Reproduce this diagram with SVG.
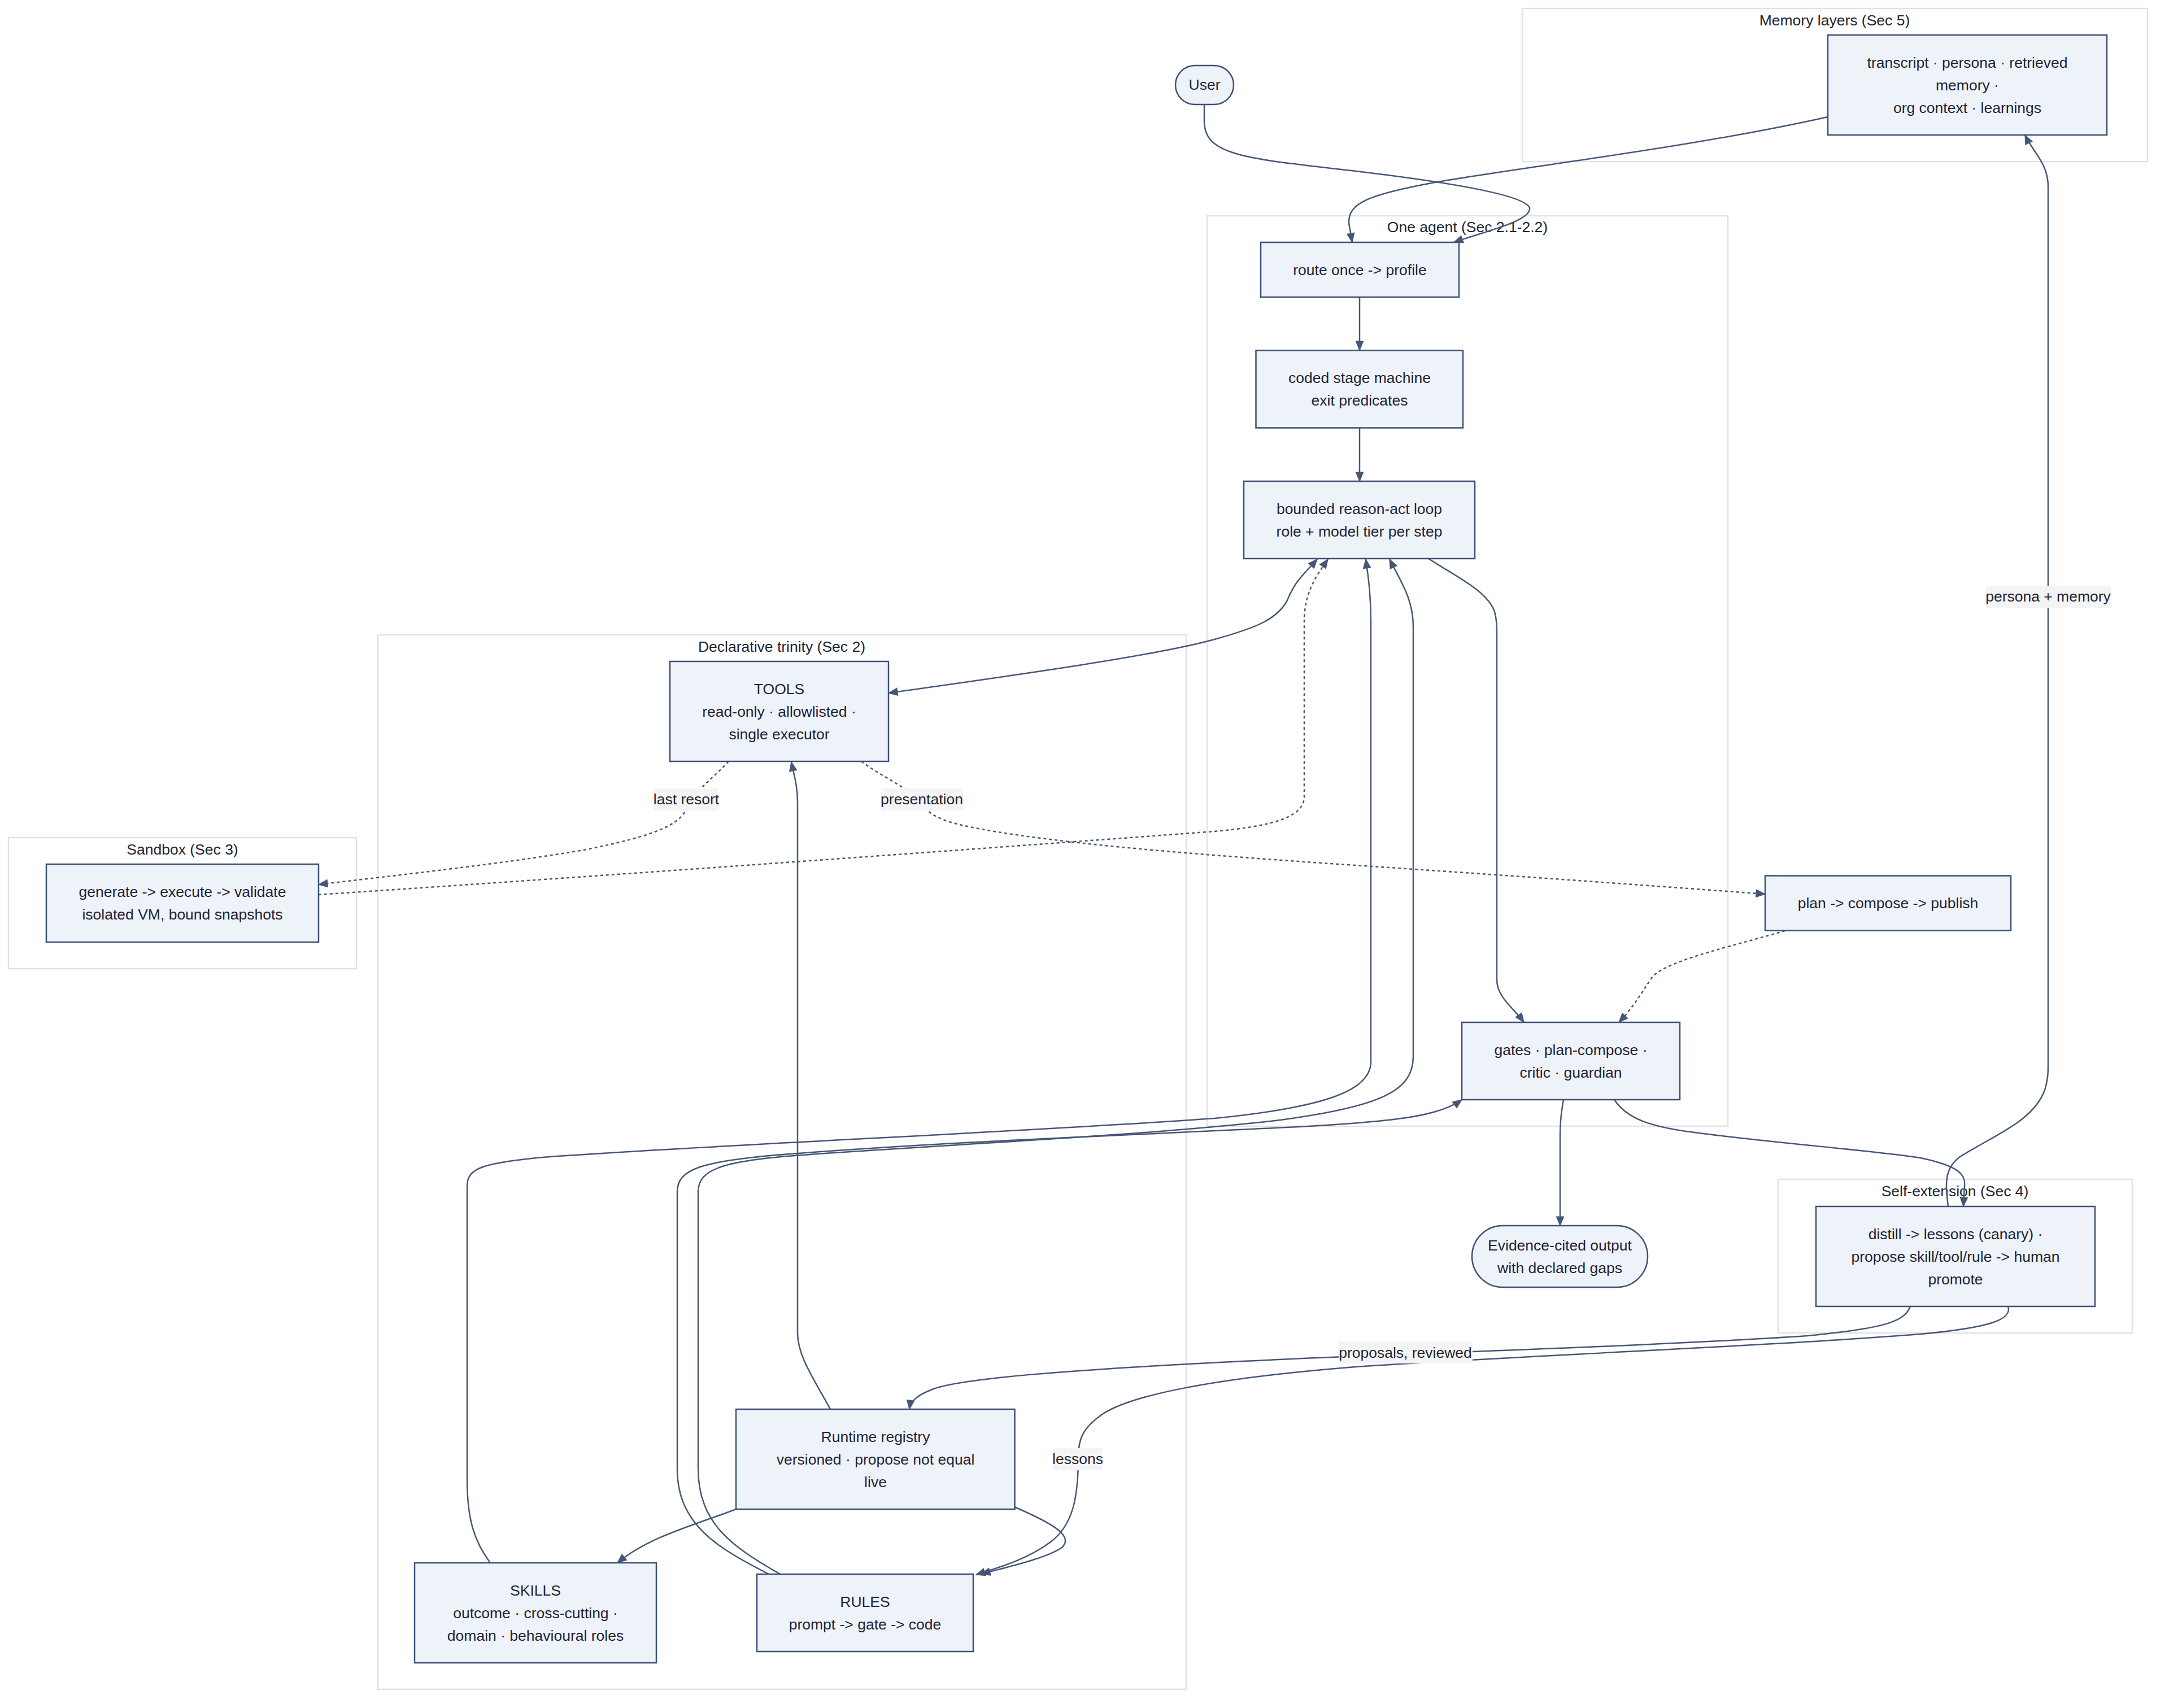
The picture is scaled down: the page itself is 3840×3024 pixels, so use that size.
<svg xmlns="http://www.w3.org/2000/svg" width="3840" height="3024" viewBox="0 0 3840 3024">
<style>
text{font-family:"Liberation Sans",Arial,sans-serif;font-size:26.5px;fill:#1e2433;text-anchor:middle}
.cluster{fill:#ffffff;stroke:#e2e2e2;stroke-width:2.5}
.node{fill:#eef2f9;stroke:#3d5075;stroke-width:2.5}
.edge{fill:none;stroke:#465775;stroke-width:2.5}
.dot{stroke-dasharray:5 5}
.lbl{fill:#f4f4f4}
</style>
<defs>
<marker id="arr" viewBox="0 0 12 10" refX="11" refY="5" markerWidth="19" markerHeight="15" markerUnits="userSpaceOnUse" orient="auto-start-reverse">
<path d="M0,0 L12,5 L0,10 z" fill="#465775"/>
</marker>
</defs>
<rect width="3840" height="3024" fill="#ffffff"/>

<g id="clusters">
<g id="cluster-memory"><rect class="cluster" x="2695" y="15" width="1107" height="271"/><text x="3248" y="45">Memory layers (Sec 5)</text></g>
<g id="cluster-agent"><rect class="cluster" x="2137" y="382" width="922" height="1612"/><text x="2598" y="411">One agent (Sec 2.1-2.2)</text></g>
<g id="cluster-trinity"><rect class="cluster" x="669" y="1124" width="1431" height="1867"/><text x="1384" y="1154">Declarative trinity (Sec 2)</text></g>
<g id="cluster-sandbox"><rect class="cluster" x="15" y="1483" width="616" height="232"/><text x="323" y="1513">Sandbox (Sec 3)</text></g>
<g id="cluster-selfext"><rect class="cluster" x="3148" y="2088" width="627" height="272"/><text x="3461" y="2118">Self-extension (Sec 4)</text></g>
</g>

<g id="connectors">
<path class="edge" marker-end="url(#arr)" d="M2132,185 L2132,214 C2132,275 2200,280 2400,303 C2560,322 2700,345 2708,368 C2712,392 2620,412 2574,429"/>
<path class="edge" marker-end="url(#arr)" d="M3236,207 C3000,260 2700,295 2540,323 C2420,345 2387,360 2388,395 L2394,429"/>
<path class="edge" marker-end="url(#arr)" d="M2407,526 L2407,620"/>
<path class="edge" marker-end="url(#arr)" d="M2407,758 L2407,852"/>
<path class="edge" marker-start="url(#arr)" marker-end="url(#arr)" d="M1573,1227 C1800,1195 2050,1160 2150,1132 C2230,1110 2260,1095 2278,1065 C2292,1030 2305,1020 2332,990"/>
<path class="edge dot" marker-end="url(#arr)" d="M1290,1348 C1255,1385 1225,1405 1216,1430 C1205,1460 1160,1480 1033,1505 C900,1528 700,1550 564,1566"/>
<path class="edge dot" marker-end="url(#arr)" d="M1525,1348 C1560,1375 1610,1395 1628,1420 C1650,1450 1680,1458 1760,1472 C1900,1495 2100,1512 2400,1532 C2700,1552 2950,1570 3125,1583"/>
<path class="edge dot" marker-end="url(#arr)" d="M564,1584 C900,1562 1500,1520 2150,1472 C2260,1462 2309,1445 2309,1410 L2309,1100 C2309,1050 2330,1020 2351,990"/>
<path class="edge" marker-end="url(#arr)" d="M2529,989 C2580,1022 2630,1045 2645,1080 C2650,1095 2650,1110 2650,1130 L2650,1735 C2650,1765 2680,1785 2698,1810"/>
<path class="edge dot" marker-end="url(#arr)" d="M3160,1648 C3080,1672 2950,1700 2925,1730 C2905,1760 2890,1785 2866,1810"/>
<path class="edge" marker-end="url(#arr)" d="M2768,1947 C2763,1975 2762,1990 2762,2020 L2762,2170"/>
<path class="edge" marker-end="url(#arr)" d="M2858,1947 C2880,1980 2920,1995 3000,2005 C3150,2025 3300,2035 3400,2050 C3470,2065 3480,2080 3478,2100 L3476,2136"/>
<path class="edge" marker-end="url(#arr)" d="M3449,2136 C3445,2100 3440,2070 3470,2048 C3530,2010 3600,1985 3620,1930 C3626,1910 3626,1900 3626,1880 L3626,330 C3626,290 3600,270 3585,239"/>
<path class="edge" marker-end="url(#arr)" d="M3382,2313 C3370,2345 3320,2352 3200,2365 C2900,2385 2500,2395 2200,2410 C1900,2425 1700,2440 1650,2460 C1625,2470 1612,2480 1610,2495"/>
<path class="edge" marker-end="url(#arr)" d="M3555,2313 C3562,2335 3530,2350 3400,2362 C3100,2385 2700,2400 2400,2420 C2150,2440 2000,2470 1950,2505 C1915,2530 1909,2550 1909,2580 C1909,2650 1900,2700 1860,2730 C1820,2760 1770,2775 1728,2788"/>
<path class="edge" marker-end="url(#arr)" d="M1470,2495 C1440,2440 1412,2400 1412,2360 L1412,1420 C1412,1390 1405,1370 1401,1349"/>
<path class="edge" marker-end="url(#arr)" d="M1303,2672 C1230,2700 1150,2720 1093,2767"/>
<path class="edge" marker-end="url(#arr)" d="M1796,2668 C1870,2700 1900,2720 1880,2740 C1850,2760 1780,2775 1737,2787"/>
<path class="edge" marker-end="url(#arr)" d="M868,2767 C840,2730 827,2690 827,2620 L827,2100 C827,2070 850,2060 950,2050 C1200,2030 1800,2005 2150,1980 C2350,1960 2427,1930 2427,1880 L2427,1100 C2427,1050 2422,1020 2418,990"/>
<path class="edge" marker-end="url(#arr)" d="M1381,2787 C1300,2740 1236,2700 1236,2600 L1236,2110 C1236,2070 1280,2055 1420,2045 C1700,2025 2000,2012 2250,1985 C2450,1960 2502,1930 2502,1870 L2502,1110 C2502,1060 2480,1030 2460,990"/>
<path class="edge" marker-end="url(#arr)" d="M1361,2787 C1270,2740 1199,2700 1199,2600 L1199,2110 C1199,2070 1240,2055 1400,2043 C1700,2020 2000,2010 2300,1995 C2480,1985 2550,1975 2588,1947"/>
</g>

<g id="edge-labels">
<g id="lbl-lastresort"><rect class="lbl" x="1157" y="1396" width="115" height="39"/><text x="1215" y="1424">last resort</text></g>
<g id="lbl-presentation"><rect class="lbl" x="1560" y="1396" width="145" height="39"/><text x="1632" y="1424">presentation</text></g>
<g id="lbl-persona"><rect class="lbl" x="3516" y="1037" width="221" height="39"/><text x="3626" y="1065">persona + memory</text></g>
<g id="lbl-proposals"><rect class="lbl" x="2370" y="2375" width="237" height="39"/><text x="2488" y="2404">proposals, reviewed</text></g>
<g id="lbl-lessons"><rect class="lbl" x="1864" y="2564" width="88" height="39"/><text x="1908" y="2592">lessons</text></g>
</g>

<g id="node-user"><rect class="node" x="2081" y="116" width="103" height="69" rx="34.5" ry="34.5"/><text x="2132.5" y="159">User</text></g>
<g id="node-memory"><rect class="node" x="3236" y="62" width="494" height="177"/><text x="3483" y="120">transcript · persona · retrieved</text><text x="3483" y="160">memory ·</text><text x="3483" y="200">org context · learnings</text></g>
<g id="node-route"><rect class="node" x="2232" y="429" width="351" height="97"/><text x="2407.5" y="487">route once -&gt; profile</text></g>
<g id="node-coded"><rect class="node" x="2223.5" y="620.5" width="366.5" height="137"/><text x="2407" y="678">coded stage machine</text><text x="2407" y="718">exit predicates</text></g>
<g id="node-loop"><rect class="node" x="2202" y="852" width="409" height="137"/><text x="2406.5" y="909.5">bounded reason-act loop</text><text x="2406.5" y="949.5">role + model tier per step</text></g>
<g id="node-tools"><rect class="node" x="1186" y="1171" width="387" height="177"/><text x="1379.5" y="1228.5">TOOLS</text><text x="1379.5" y="1268.5">read-only · allowlisted ·</text><text x="1379.5" y="1308.5">single executor</text></g>
<g id="node-sandbox"><rect class="node" x="82" y="1530" width="482" height="138"/><text x="323" y="1588">generate -&gt; execute -&gt; validate</text><text x="323" y="1628">isolated VM, bound snapshots</text></g>
<g id="node-plan"><rect class="node" x="3125" y="1550.5" width="435" height="97"/><text x="3342.5" y="1608">plan -&gt; compose -&gt; publish</text></g>
<g id="node-gates"><rect class="node" x="2588" y="1810" width="386" height="137"/><text x="2781" y="1867.5">gates · plan-compose ·</text><text x="2781" y="1907.5">critic · guardian</text></g>
<g id="node-output"><rect class="node" x="2606" y="2170" width="311" height="109" rx="54.5" ry="54.5"/><text x="2761.5" y="2213.5">Evidence-cited output</text><text x="2761.5" y="2253.5">with declared gaps</text></g>
<g id="node-selfext"><rect class="node" x="3215" y="2136" width="494" height="177"/><text x="3462" y="2193.5">distill -&gt; lessons (canary) ·</text><text x="3462" y="2233.5">propose skill/tool/rule -&gt; human</text><text x="3462" y="2273.5">promote</text></g>
<g id="node-registry"><rect class="node" x="1303" y="2495" width="493.5" height="177"/><text x="1550" y="2552.5">Runtime registry</text><text x="1550" y="2592.5">versioned · propose not equal</text><text x="1550" y="2632.5">live</text></g>
<g id="node-skills"><rect class="node" x="734" y="2767" width="428" height="177"/><text x="948" y="2824.5">SKILLS</text><text x="948" y="2864.5">outcome · cross-cutting ·</text><text x="948" y="2904.5">domain · behavioural roles</text></g>
<g id="node-rules"><rect class="node" x="1340" y="2787" width="383" height="137"/><text x="1531.5" y="2844.5">RULES</text><text x="1531.5" y="2884.5">prompt -&gt; gate -&gt; code</text></g>
</svg>
